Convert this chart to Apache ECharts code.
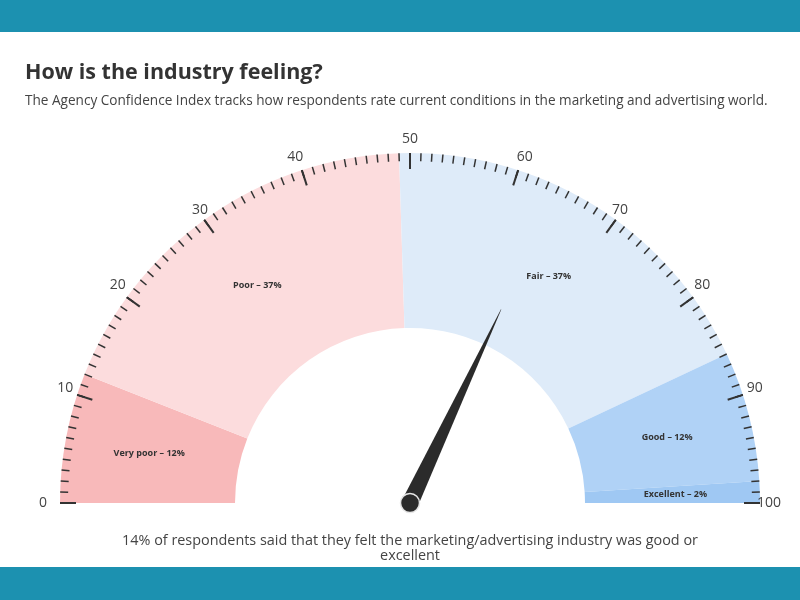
<!DOCTYPE html>
<html>
<head>
<meta charset="utf-8">
<script src="https://cdn.jsdelivr.net/npm/echarts@6/dist/echarts.min.js"></script>
<style>
  html, body { margin: 0; padding: 0; background: #fff; }
  #main { width: 800px; height: 600px; }
</style>
</head>
<body>
<div id="main"></div>
<script>
// ratings and their share of respondents
const categories = ['Very poor', 'Poor', 'Fair', 'Good', 'Excellent'];
const shares = [12, 37, 37, 12, 2];
const bandColors = ['#f8b9ba', '#fcdcdd', '#deebf9', '#b0d2f6', '#9fc8f3'];
// index reading shown by the needle
const pointerValue = 64;
const gaugeMin = 0;
const gaugeMax = 100;

const font = 'Open Sans';
const center = [410, 503];

let chart = echarts.init(document.getElementById('main'));

let option = {
  backgroundColor: '#fff',
  title: [
    {
      text: 'How is the industry feeling?',
      left: 25,
      top: 62,
      padding: 0,
      textStyle: { fontFamily: font, fontSize: 21.5, fontWeight: 'bold', color: '#333' }
    },
    {
      text: 'The Agency Confidence Index tracks how respondents rate current conditions in the marketing and advertising world.',
      left: 25,
      top: 94,
      padding: 0,
      textStyle: { fontFamily: font, fontSize: 13.6, fontWeight: 'normal', color: '#444' }
    },
    {
      text: '14% of respondents said that they felt the marketing/advertising industry was good or\nexcellent',
      left: 410,
      top: 533,
      padding: 0,
      textAlign: 'center',
      textStyle: { fontFamily: font, fontSize: 14.4, fontWeight: 'normal', color: '#444', lineHeight: 15, align: 'center' }
    }
  ],
  graphic: [
    { type: 'rect', shape: { x: 0, y: 0, width: 800, height: 32 }, style: { fill: '#1c91b0' }, silent: true },
    { type: 'rect', shape: { x: 0, y: 567, width: 800, height: 33 }, style: { fill: '#1c91b0' }, silent: true }
  ],
  series: [
    {
      // coloured bands
      type: 'pie',
      z: 1,
      center: center,
      radius: [175, 350],
      startAngle: 180,
      endAngle: 0,
      clockwise: true,
      silent: true,
      label: {
        show: true,
        position: 'inside',
        formatter: '{b} – {c}%',
        fontFamily: font,
        fontSize: 9,
        fontWeight: 'bold',
        color: '#333'
      },
      labelLine: { show: false },
      itemStyle: { borderWidth: 0 },
      data: categories.map((name, i) => ({
        name: name,
        value: shares[i],
        itemStyle: { color: bandColors[i] }
      }))
    },
    {
      // scale, ticks and needle
      type: 'gauge',
      z: 5,
      center: center,
      radius: 350,
      startAngle: 180,
      endAngle: 0,
      min: gaugeMin,
      max: gaugeMax,
      splitNumber: 10,
      axisLine: { show: false, lineStyle: { width: 0 } },
      splitLine: { show: true, distance: 0, length: 16, lineStyle: { color: '#333', width: 2 } },
      axisTick: { show: true, splitNumber: 10, distance: 0, length: 8, lineStyle: { color: '#333', width: 1.5 } },
      axisLabel: {
        distance: -37,
        align: 'center',
        verticalAlign: 'middle',
        fontFamily: font,
        fontSize: 14,
        color: '#444',
        // push the last label clear of its tick
        formatter: function (v) {
          return Math.round(Number(v)) === gaugeMax ? '\u2003\u2003' + v : '' + v;
        }
      },
      pointer: {
        show: true,
        icon: 'path://M49,0 L51,0 L100,1000 L0,1000 Z',
        width: 17,
        length: 214,
        offsetCenter: [0, 0],
        itemStyle: { color: '#2b2b2b' }
      },
      anchor: {
        show: true,
        showAbove: true,
        size: 19,
        itemStyle: { color: '#2b2b2b', borderColor: '#e6e6e6', borderWidth: 1.5 }
      },
      title: { show: false },
      detail: { show: false },
      silent: true,
      data: [{ value: pointerValue }]
    }
  ]
};

chart.setOption(option);
</script>
</body>
</html>
